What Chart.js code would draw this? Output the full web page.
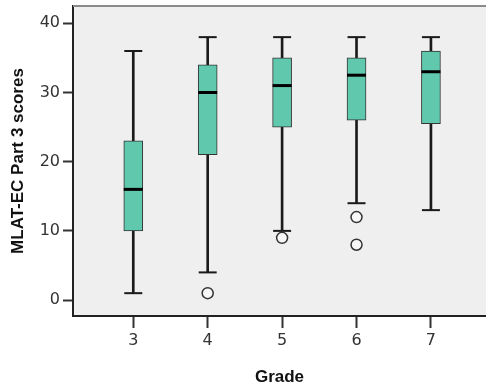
<!DOCTYPE html>
<html>
<head>
<meta charset="utf-8">
<script src="https://cdn.jsdelivr.net/npm/chart.js@4"></script>
<style>
  html, body { margin: 0; padding: 0; background: #ffffff; }
  #wrap { width: 486px; height: 391px; position: relative; }
</style>
</head>
<body>
<div id="wrap"><canvas id="c"></canvas></div>
<script>
// ---- data ----
const grades       = [3, 4, 5, 6, 7];
const whiskerLow   = [1, 4, 10, 14, 13];
const q1           = [10, 21, 25, 26, 25.5];
const median       = [16, 30, 31, 32.5, 33];
const q3           = [23, 34, 35, 35, 36];
const whiskerHigh  = [36, 38, 38, 38, 38];
const outlierGrade = [4, 5, 6, 6];
const outlierValue = [1, 9, 12, 8];
const yTicks       = [0, 10, 20, 30, 40];

const xTitle = 'Grade';
const yTitle = 'MLAT-EC Part 3 scores';

const dark = '#1a1a1a';
const boxFill = '#60c8ad';
const plotBg = '#efefef';

const whiskerData = grades.map((g, i) => ({ x: g, y: [whiskerLow[i], whiskerHigh[i]] }));
const boxData     = grades.map((g, i) => ({ x: g, y: [q1[i], q3[i]] }));
const medianData  = grades.map((g, i) => ({ x: g, y: median[i] }));
const capData     = grades.flatMap((g, i) => [{ x: g, y: whiskerLow[i] }, { x: g, y: whiskerHigh[i] }]);
const outData     = outlierGrade.map((g, i) => ({ x: g, y: outlierValue[i] }));

const framePlugin = {
  id: 'frame',
  beforeDraw(chart) {
    const { ctx, chartArea: a } = chart;
    ctx.save();
    ctx.fillStyle = plotBg;
    ctx.fillRect(a.left, a.top, a.right - a.left, a.bottom - a.top);
    ctx.restore();
  },
  afterDraw(chart) {
    const { ctx, chartArea: a } = chart;
    ctx.save();
    ctx.strokeStyle = '#8a8a8a';
    ctx.lineWidth = 2;
    ctx.beginPath();
    ctx.moveTo(a.left, a.top);
    ctx.lineTo(a.right, a.top);
    ctx.stroke();
    ctx.restore();
  }
};

new Chart(document.getElementById('c'), {
  type: 'bar',
  data: {
    datasets: [
      {
        type: 'bar', data: whiskerData, backgroundColor: dark, borderWidth: 0,
        barThickness: 2, grouped: false, order: 4
      },
      {
        type: 'bar', data: boxData, backgroundColor: boxFill, borderColor: '#333333',
        borderWidth: 1, borderSkipped: false, barThickness: 19, grouped: false, order: 3
      },
      {
        type: 'scatter', data: medianData, pointStyle: 'line', pointRadius: 9.5,
        borderColor: '#000000', borderWidth: 3, order: 2
      },
      {
        type: 'scatter', data: capData, pointStyle: 'line', pointRadius: 9,
        borderColor: dark, borderWidth: 2, order: 2
      },
      {
        type: 'scatter', data: outData, pointStyle: 'circle', pointRadius: 5.5,
        backgroundColor: '#f7f7f7', borderColor: '#333333', borderWidth: 1.5, order: 1
      }
    ]
  },
  options: {
    responsive: true,
    maintainAspectRatio: false,
    animation: false,
    events: [],
    layout: { autoPadding: false, padding: { top: 6, left: 0, right: 0, bottom: 0 } },
    plugins: { legend: { display: false }, tooltip: { enabled: false } },
    scales: {
      x: {
        type: 'linear',
        min: 2.19, max: 7.74,
        offset: false,
        afterFit(s) { s.height = 75; s.paddingLeft = 0; s.paddingRight = 0; },
        afterBuildTicks(s) { s.ticks = grades.map(v => ({ value: v })); },
        grid: { offset: false, drawOnChartArea: false, drawTicks: true, tickLength: 12, tickColor: '#333333', tickWidth: 2 },
        border: { display: true, color: '#222222', width: 2 },
        ticks: {
          padding: 3, color: '#333333', maxRotation: 0, autoSkip: false,
          font: { family: 'DejaVu Sans', size: 16 }
        },
        title: {
          display: true, text: xTitle, color: '#111111',
          font: { family: 'Liberation Sans', size: 17, weight: 'bold' },
          padding: { top: 0, bottom: 3 }
        }
      },
      y: {
        type: 'linear',
        min: -2.3, max: 42.5,
        afterFit(s) { s.width = 73; s.paddingTop = 0; s.paddingBottom = 0; },
        afterBuildTicks(s) { s.ticks = yTicks.map(v => ({ value: v })); },
        grid: { drawOnChartArea: false, drawTicks: true, tickLength: 10, tickColor: '#333333', tickWidth: 2 },
        border: { display: true, color: '#222222', width: 2 },
        ticks: {
          padding: 3, color: '#333333',
          font: { family: 'DejaVu Sans', size: 16 }
        },
        title: {
          display: true, text: yTitle, color: '#111111',
          font: { family: 'Liberation Sans', size: 17, weight: 'bold' },
          padding: { top: 8, bottom: 0 }
        }
      }
    }
  },
  plugins: [framePlugin]
});
</script>
</body>
</html>
